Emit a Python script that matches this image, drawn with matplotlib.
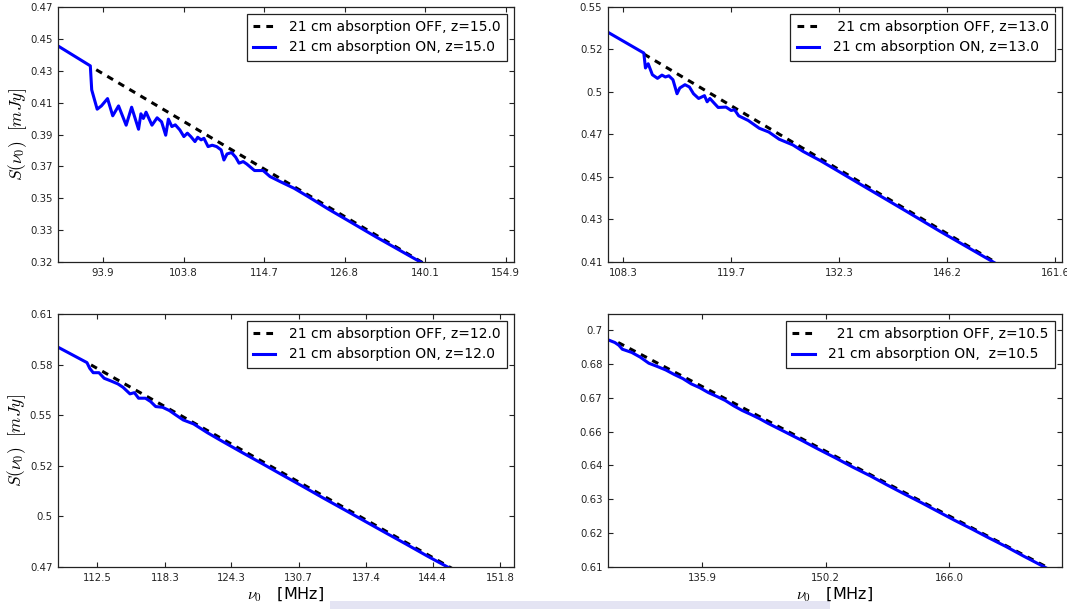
import matplotlib
matplotlib.use("Agg")
import matplotlib.pyplot as plt
from matplotlib.patches import Rectangle
from matplotlib.ticker import NullLocator, FixedLocator, FixedFormatter
import numpy as np

plt.rcParams['font.family'] = 'DejaVu Sans'
plt.rcParams['mathtext.fontset'] = 'cm'

# ---- z = 15.0 ----
nu_off_15 = [93.10, 139.51, 143.76]
s_off_15 = [0.4276, 0.3200, 0.3132]
nu_on_15 = [88.78, 92.42, 92.58, 93.21, 93.70, 94.42, 95.03, 95.72, 96.63, 97.29,
            98.13, 98.42, 98.72, 99.05, 99.78, 100.42, 100.98, 101.50, 101.84, 102.28,
            102.72, 103.30, 103.82, 104.27, 104.72, 105.26, 105.62, 106.07, 106.44, 106.99,
            107.54, 108.14, 108.74, 109.12, 109.54, 110.15, 110.72, 111.19, 111.76, 112.24,
            113.35, 114.57, 115.55, 117.04, 119.07, 121.13, 124.28, 127.50, 131.96, 139.51,
            143.76]
s_on_15 = [0.4432, 0.4301, 0.4148, 0.4029, 0.4049, 0.4094, 0.3989, 0.4049, 0.3933, 0.4041,
           0.3909, 0.4001, 0.3973, 0.4011, 0.3933, 0.3977, 0.3953, 0.3874, 0.3969, 0.3925,
           0.3935, 0.3905, 0.3866, 0.3886, 0.3866, 0.3837, 0.3862, 0.3847, 0.3856, 0.3808,
           0.3816, 0.3808, 0.3789, 0.3732, 0.3766, 0.3774, 0.3748, 0.3714, 0.3723, 0.3710,
           0.3673, 0.3673, 0.3640, 0.3612, 0.3576, 0.3532, 0.3465, 0.3403, 0.3321, 0.3197,
           0.3128]
xticks_15 = [93.9, 103.8, 114.7, 126.8, 140.1, 154.9]
ylabels_15 = ['0.32', '0.33', '0.35', '0.37', '0.39', '0.41', '0.43', '0.45', '0.47']
xlim_15 = (88.78, 156.5)
ylim_15 = (0.32, 0.47)

# ---- z = 13.0 ----
nu_off_13 = [110.38, 152.82, 156.25]
s_off_13 = [0.5210, 0.4100, 0.4033]
nu_on_13 = [106.78, 110.38, 110.55, 110.83, 111.26, 111.79, 112.25, 112.61, 112.97, 113.40,
            113.83, 114.12, 114.67, 115.14, 115.58, 116.13, 116.76, 117.05, 117.35, 117.80,
            118.25, 119.11, 119.68, 120.06, 120.52, 121.59, 122.84, 123.94, 125.12, 126.72,
            127.93, 129.98, 132.06, 134.17, 136.32, 140.71, 145.25, 152.82, 156.25]
s_on_13 = [0.5342, 0.5216, 0.5127, 0.5152, 0.5087, 0.5066, 0.5085, 0.5074, 0.5081, 0.5058,
           0.4977, 0.5010, 0.5029, 0.5016, 0.4977, 0.4950, 0.4966, 0.4931, 0.4950, 0.4924,
           0.4899, 0.4901, 0.4882, 0.4886, 0.4852, 0.4826, 0.4783, 0.4762, 0.4723, 0.4692,
           0.4657, 0.4608, 0.4555, 0.4502, 0.4450, 0.4348, 0.4247, 0.4095, 0.4028]
xticks_13 = [108.3, 119.7, 132.3, 146.2, 161.6]
ylabels_13 = ['0.41', '0.43', '0.45', '0.47', '0.5', '0.52', '0.55']
xlim_13 = (106.78, 162.6)
ylim_13 = (0.41, 0.55)

# ---- z = 12.0 ----
nu_off_12 = [111.98, 146.21, 149.04]
s_off_12 = [0.5788, 0.4700, 0.4630]
nu_on_12 = [109.26, 111.64, 111.87, 112.16, 112.64, 113.08, 113.66, 114.24, 114.68, 115.27,
            115.65, 116.01, 116.60, 117.05, 117.50, 118.10, 118.71, 119.32, 119.93, 120.85,
            122.10, 123.35, 125.26, 127.20, 129.16, 131.16, 133.18, 135.24, 137.33, 139.45,
            141.61, 143.79, 146.21, 149.04]
s_on_12 = [0.5895, 0.5802, 0.5768, 0.5742, 0.5742, 0.5709, 0.5693, 0.5676, 0.5656, 0.5618,
           0.5625, 0.5593, 0.5593, 0.5574, 0.5545, 0.5541, 0.5522, 0.5495, 0.5469, 0.5447,
           0.5398, 0.5354, 0.5290, 0.5228, 0.5166, 0.5105, 0.5044, 0.4985, 0.4926, 0.4868,
           0.4811, 0.4754, 0.4695, 0.4626]
xticks_12 = [112.5, 118.3, 124.3, 130.7, 137.4, 144.4, 151.8]
ylabels_12 = ['0.47', '0.5', '0.52', '0.55', '0.58', '0.61']
xlim_12 = (109.26, 153.4)
ylim_12 = (0.47, 0.61)

# ---- z = 10.5 ----
nu_off_105 = [126.98, 179.41, 183.0]
s_off_105 = [0.6949, 0.6103, 0.6058]
nu_on_105 = [125.94, 126.64, 127.05, 127.41, 128.39, 129.28, 130.17, 131.07, 131.98, 132.89,
             133.81, 134.73, 135.66, 136.60, 137.54, 138.49, 139.45, 140.41, 141.38, 142.36,
             143.34, 145.33, 147.35, 149.38, 151.46, 153.56, 155.70, 157.85, 160.04, 162.26,
             164.50, 166.79, 169.10, 171.43, 173.82, 176.23, 179.41, 181.64]
s_on_105 = [0.6960, 0.6949, 0.6938, 0.6922, 0.6909, 0.6890, 0.6866, 0.6853, 0.6839, 0.6821,
            0.6805, 0.6784, 0.6769, 0.6750, 0.6735, 0.6719, 0.6698, 0.6680, 0.6665, 0.6649,
            0.6631, 0.6598, 0.6565, 0.6531, 0.6498, 0.6464, 0.6432, 0.6398, 0.6365, 0.6333,
            0.6300, 0.6267, 0.6236, 0.6204, 0.6173, 0.6140, 0.6099, 0.6071]
xticks_105 = [135.9, 150.2, 166.0]
ylabels_105 = ['0.61', '0.62', '0.63', '0.64', '0.66', '0.67', '0.68', '0.7']
xlim_105 = (125.94, 181.9)
ylim_105 = (0.61, 0.7065)
ytop_105 = 0.70

panels = [
    dict(off=(nu_off_15, s_off_15), on=(nu_on_15, s_on_15), xt=xticks_15, yl=ylabels_15,
         xlim=xlim_15, ylim=ylim_15, ytop=ylim_15[1],
         lab_off='21 cm absorption OFF, z=15.0', lab_on='21 cm absorption ON, z=15.0'),
    dict(off=(nu_off_13, s_off_13), on=(nu_on_13, s_on_13), xt=xticks_13, yl=ylabels_13,
         xlim=xlim_13, ylim=ylim_13, ytop=ylim_13[1],
         lab_off=' 21 cm absorption OFF, z=13.0', lab_on='21 cm absorption ON, z=13.0'),
    dict(off=(nu_off_12, s_off_12), on=(nu_on_12, s_on_12), xt=xticks_12, yl=ylabels_12,
         xlim=xlim_12, ylim=ylim_12, ytop=ylim_12[1],
         lab_off='21 cm absorption OFF, z=12.0', lab_on='21 cm absorption ON, z=12.0'),
    dict(off=(nu_off_105, s_off_105), on=(nu_on_105, s_on_105), xt=xticks_105, yl=ylabels_105,
         xlim=xlim_105, ylim=ylim_105, ytop=ytop_105,
         lab_off='  21 cm absorption OFF, z=10.5', lab_on='21 cm absorption ON,  z=10.5'),
]

fig = plt.figure(figsize=(10.67, 6.09), dpi=100)
fig.patch.set_facecolor('white')

W, H = 1067.0, 609.0
boxes = [(58, 7, 456, 255), (608, 7, 454, 255), (58, 314, 456, 253), (608, 314, 454, 253)]

for i, (p, b) in enumerate(zip(panels, boxes)):
    l, t, w, h = b
    ax = fig.add_axes([l / W, 1 - (t + h) / H, w / W, h / H])
    ax.plot(p['off'][0], p['off'][1], color='k', lw=2.2, linestyle=(0, (2.2, 2.0)),
            label=p['lab_off'])
    ax.plot(p['on'][0], p['on'][1], color='#0000ff', lw=2.2, label=p['lab_on'])
    ax.set_xscale('log')
    ax.set_yscale('log')
    ax.set_xlim(*p['xlim'])
    ax.set_ylim(*p['ylim'])

    ax.xaxis.set_major_locator(FixedLocator(p['xt']))
    ax.xaxis.set_major_formatter(FixedFormatter(['%.1f' % v for v in p['xt']]))
    yt = np.geomspace(p['ylim'][0], p['ytop'], len(p['yl']))
    ax.yaxis.set_major_locator(FixedLocator(yt))
    ax.yaxis.set_major_formatter(FixedFormatter(p['yl']))
    ax.xaxis.set_minor_locator(NullLocator())
    ax.yaxis.set_minor_locator(NullLocator())

    ax.tick_params(direction='in', top=True, right=True, length=3.5, width=0.8,
                   labelsize=7.3, pad=4, colors='#222222', labelcolor='#222222')
    for sp in ax.spines.values():
        sp.set_linewidth(0.9)
        sp.set_color('#222222')

    leg = ax.legend(loc='upper right', fontsize=10, handlelength=1.6, handletextpad=1.0,
                    borderpad=0.45, labelspacing=0.45, borderaxespad=0.5,
                    fancybox=False, framealpha=1)
    leg.get_frame().set_edgecolor('#222222')
    leg.get_frame().set_linewidth(0.9)

    if i % 2 == 0:
        ax.set_ylabel(r'$S(\nu_0)\ \ [mJy]$', fontsize=12.5, labelpad=1)
    if i >= 2:
        ax.set_xlabel(r'$\nu_0$   [MHz]', fontsize=11.5, labelpad=2)

# faint scan artefact at the bottom edge
fig.add_artist(Rectangle((330 / W, 0), 500 / W, 8 / H, transform=fig.transFigure,
                         color='#e2e2f2', alpha=0.9, zorder=-1, lw=0))

fig.savefig('out.png', dpi=100, facecolor='white')
